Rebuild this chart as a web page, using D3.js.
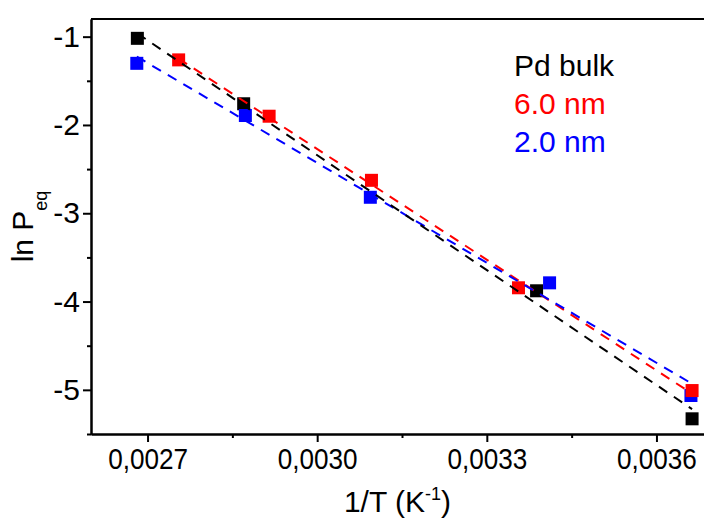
<!DOCTYPE html>
<html>
<head>
<meta charset="utf-8">
<script src="https://cdn.jsdelivr.net/npm/d3@7/dist/d3.min.js"></script>
<style>
	body { margin: 0; background: #fff; }
	svg { display: block; }
	text { font-family: "Liberation Sans", Arial, sans-serif; }
</style>
</head>
<body>
<svg id="chart" width="704" height="518"></svg>
<script>
(function(d3) {
	'use strict';

	// values (1/T in K^-1, ln Peq)
	var seriesNames = ['Pd bulk', '6.0 nm', '2.0 nm'];
	var seriesColors = ['#000000', '#ff0000', '#0000ff'];

	var bulkX = [0.002682, 0.002870, 0.003388, 0.003663];
	var bulkY = [-1.019, -1.760, -3.878, -5.328];

	var nm6X = [0.002755, 0.002915, 0.003096, 0.003356, 0.003663];
	var nm6Y = [-1.263, -1.901, -2.627, -3.844, -5.008];

	var nm2X = [0.002681, 0.002873, 0.003094, 0.003411, 0.003661];
	var nm2Y = [-1.302, -1.893, -2.819, -3.788, -5.064];

	var xMajorTicks = [0.0027, 0.0030, 0.0033, 0.0036];
	var xMinorTicks = [0.00285, 0.00315, 0.00345];
	var yMajorTicks = [-1, -2, -3, -4, -5];
	var yMinorTicks = [-1.5, -2.5, -3.5, -4.5, -5.5];

	var svg = d3.select('#chart');
	var W = 704, H = 518;
	var left = 91, top = 19, bottom = 434, right = 713;

	var x = d3.scaleLinear().domain([0.0026, 0.0037]).range([left, right]);
	var y = d3.scaleLinear().domain([-5.5, -0.8]).range([bottom, top]);

	var commaLocale = d3.formatLocale({ decimal: ',', thousands: '.', grouping: [3], currency: ['', ''] });
	var fmtX = commaLocale.format('.4f');

	/** axes */
	var styleAxis = function(g) {
		g.selectAll('.domain').attr('stroke', '#000').attr('stroke-width', 2);
		g.selectAll('.tick line').attr('stroke', '#000').attr('stroke-width', 2);
	};

	var gx = svg.append('g').attr('transform', 'translate(0,' + bottom + ')')
		.call(d3.axisBottom(x).tickValues(xMajorTicks).tickFormat(fmtX).tickSize(8).tickSizeOuter(0).tickPadding(6));
	styleAxis(gx);
	gx.selectAll('.tick text').attr('font-size', 30).attr('fill', '#000')
		.attr('font-family', '"Liberation Sans", Arial, sans-serif')
		.attr('transform', 'scale(0.87,1)');

	var gxMinor = svg.append('g').attr('transform', 'translate(0,' + bottom + ')')
		.call(d3.axisBottom(x).tickValues(xMinorTicks).tickFormat('').tickSize(4).tickSizeOuter(0));
	styleAxis(gxMinor);

	var gy = svg.append('g').attr('transform', 'translate(' + left + ',0)')
		.call(d3.axisLeft(y).tickValues(yMajorTicks).tickFormat(function(v) { return '-' + Math.abs(v); })
			.tickSize(8).tickSizeOuter(0).tickPadding(3));
	styleAxis(gy);
	gy.selectAll('.tick text').attr('font-size', 30).attr('fill', '#000')
		.attr('font-family', '"Liberation Sans", Arial, sans-serif');

	var gyMinor = svg.append('g').attr('transform', 'translate(' + left + ',0)')
		.call(d3.axisLeft(y).tickValues(yMinorTicks).tickFormat('').tickSize(4).tickSizeOuter(0));
	styleAxis(gyMinor);

	// top frame line, right side runs off the picture
	svg.append('line').attr('x1', left).attr('x2', W).attr('y1', top).attr('y2', top)
		.attr('stroke', '#000').attr('stroke-width', 2);

	/** data */
	var series = [
		{ xs: bulkX, ys: bulkY, color: seriesColors[0] },
		{ xs: nm2X, ys: nm2Y, color: seriesColors[2] },
		{ xs: nm6X, ys: nm6Y, color: seriesColors[1] }
	];

	var fit = function(xs, ys) {
		var mx = d3.mean(xs), my = d3.mean(ys), sxy = 0, sxx = 0;
		xs.forEach(function(v, i) {
			sxy += (v - mx) * (ys[i] - my);
			sxx += (v - mx) * (v - mx);
		});
		var slope = sxy / sxx;
		var x0 = d3.min(xs), x1 = d3.max(xs);
		return [[x0, my + slope * (x0 - mx)], [x1, my + slope * (x1 - mx)]];
	};

	var size = 13;
	series.forEach(function(s) {
		svg.append('g').selectAll('rect').data(s.xs).enter().append('rect')
			.attr('x', function(v) { return x(v) - size / 2; })
			.attr('y', function(v, i) { return y(s.ys[i]) - size / 2; })
			.attr('width', size).attr('height', size)
			.attr('fill', s.color);
	});

	var line = d3.line().x(function(p) { return x(p[0]); }).y(function(p) { return y(p[1]); });
	[series[2], series[1], series[0]].forEach(function(s) {
		svg.append('path').attr('d', line(fit(s.xs, s.ys)))
			.attr('fill', 'none').attr('stroke', s.color).attr('stroke-width', 2)
			.attr('stroke-dasharray', '10,8');
	});

	/** legend */
	var legend = svg.append('g').attr('font-size', 30);
	legend.selectAll('text').data(seriesNames).enter().append('text')
		.attr('x', 514).attr('y', function(d, i) { return 76 + i * 38; })
		.attr('fill', function(d, i) { return seriesColors[i]; })
		.text(function(d) { return d; });

	/** axis titles */
	var xTitle = svg.append('text').attr('x', (left + W) / 2).attr('y', 512)
		.attr('text-anchor', 'middle').attr('font-size', 30).attr('fill', '#000');
	xTitle.append('tspan').text('1/T (K');
	xTitle.append('tspan').attr('font-size', 18).attr('dy', -12).text('-1');
	xTitle.append('tspan').attr('dy', 12).text(')');

	var yTitle = svg.append('text').attr('transform', 'translate(33,' + ((top + bottom) / 2) + ') rotate(-90)')
		.attr('text-anchor', 'middle').attr('font-size', 30).attr('fill', '#000');
	yTitle.append('tspan').text('ln P');
	yTitle.append('tspan').attr('font-size', 18).attr('dy', 14).text('eq');
})(d3);
</script>
</body>
</html>
